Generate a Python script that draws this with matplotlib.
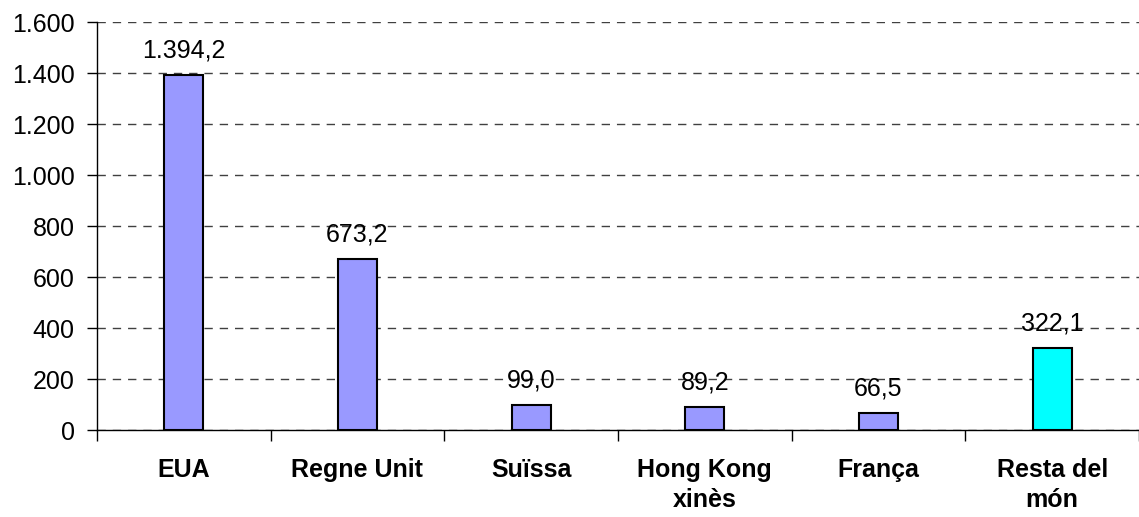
import matplotlib
matplotlib.use("Agg")
import matplotlib.pyplot as plt
from matplotlib.ticker import FixedLocator, FuncFormatter

categories = ["EUA", "Regne Unit", "Suïssa", "Hong Kong\nxinès", "França", "Resta del\nmón"]
values = [1394.2, 673.2, 99.0, 89.2, 66.5, 322.1]
value_labels = ["1.394,2", "673,2", "99,0", "89,2", "66,5", "322,1"]
colors = ["#9999FF", "#9999FF", "#9999FF", "#9999FF", "#9999FF", "#00FFFF"]
yticks = [0, 200, 400, 600, 800, 1000, 1200, 1400, 1600]

plt.rcParams['font.family'] = ['Liberation Sans', 'DejaVu Sans']

fig = plt.figure(figsize=(11.39, 5.17), dpi=100)
ax = fig.add_axes([0.085, 0.168, 0.915, 0.789])

x = list(range(len(categories)))
bars = ax.bar(x, values, width=0.225, color=colors, edgecolor="black", linewidth=1.5, zorder=3)

for xi, v, lab in zip(x, values, value_labels):
    ax.annotate(lab, (xi, v), xytext=(0, 9), textcoords="offset points",
                ha="center", va="bottom", fontsize=18)

ax.set_xlim(-0.5, len(categories) - 0.5)
ax.set_ylim(0, 1600)
ax.yaxis.set_major_locator(FixedLocator(yticks))
ax.yaxis.set_major_formatter(FuncFormatter(lambda v, p: f"{int(v):,}".replace(",", ".")))
ax.tick_params(axis="y", labelsize=18, length=7, width=1, direction="out", pad=9)

ax.set_xticks([i - 0.5 for i in range(len(categories) + 1)])
ax.set_xticklabels([])
ax.set_xticks(x, minor=True)
ax.set_xticklabels(categories, minor=True, fontsize=18, fontweight="bold", linespacing=1.32)
ax.tick_params(axis="x", which="major", length=8, width=1, direction="out")
ax.tick_params(axis="x", which="minor", length=0, pad=20)

ax.grid(axis="y", linestyle=(0, (6, 5)), color="#404040", linewidth=1, zorder=0)
for s in ["top", "right"]:
    ax.spines[s].set_visible(False)
ax.spines["left"].set_linewidth(1)
ax.spines["bottom"].set_linewidth(1)

fig.savefig("out.png", dpi=100)
